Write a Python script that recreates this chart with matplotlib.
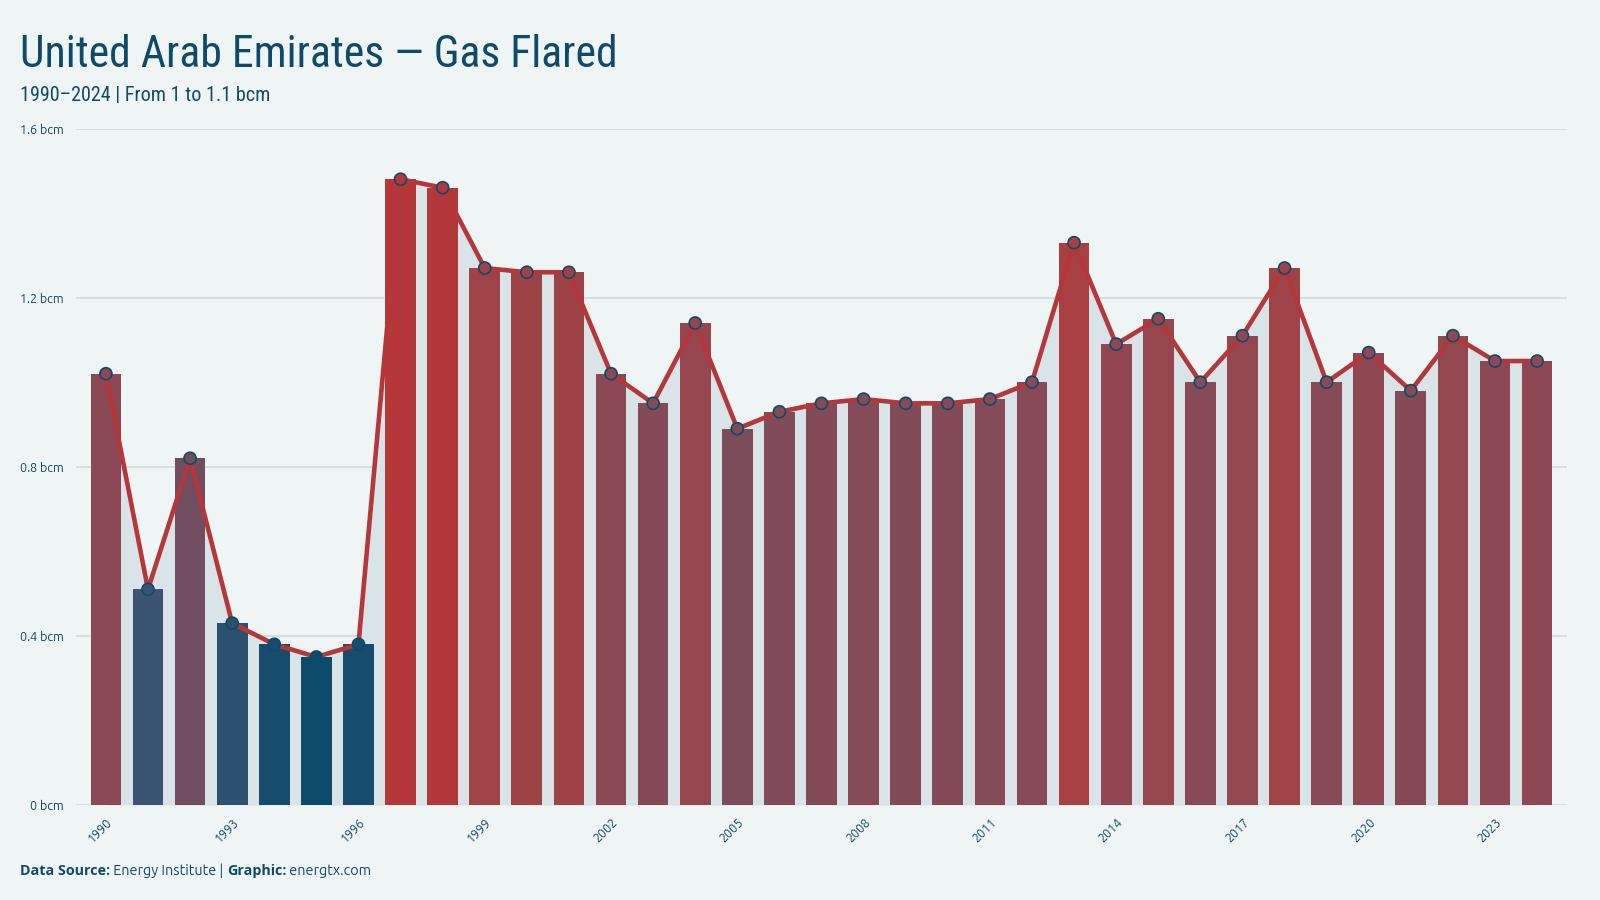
import numpy as np
import matplotlib
matplotlib.use('Agg')
import matplotlib.pyplot as plt
from matplotlib import font_manager as fm
from matplotlib.colors import LinearSegmentedColormap

years = list(range(1990, 2025))
flared = [1.02, 0.51, 0.82, 0.43, 0.38, 0.35, 0.38, 1.48, 1.46, 1.27,
          1.26, 1.26, 1.02, 0.95, 1.14, 0.89, 0.93, 0.95, 0.96, 0.95,
          0.95, 0.96, 1.00, 1.33, 1.09, 1.15, 1.00, 1.11, 1.27, 1.00,
          1.07, 0.98, 1.11, 1.05, 1.05]
yticks = [0, 0.4, 0.8, 1.2, 1.6]
ytick_labels = ['0 bcm', '0.4 bcm', '0.8 bcm', '1.2 bcm', '1.6 bcm']

title = 'United Arab Emirates \u2014 Gas Flared'
subtitle = '1990\u20132024 | From 1 to 1.1 bcm'

BG = '#eff5f5'
BLUE = '#0e4a6b'
RED = '#b5373a'
FILL = '#d9e4e8'
GRID = '#d3dde1'

# colour ramp blue -> red, tuned to the reference
stops = [(0.35, '#0e4a6b'), (0.43, '#2b5070'), (0.51, '#3b5473'),
         (0.90, '#7f4c5a'), (1.00, '#884a56'), (1.10, '#924750'),
         (1.27, '#9e4346'), (1.33, '#a84042'), (1.48, '#b5373a')]
vmin, vmax = stops[0][0], stops[-1][0]
cmap = LinearSegmentedColormap.from_list(
    'ramp', [((v - vmin) / (vmax - vmin), c) for v, c in stops])
colors = [cmap((v - vmin) / (vmax - vmin)) for v in flared]

narrow = ['Ubuntu Condensed', 'Roboto Condensed', 'Roboto', 'DejaVu Sans']
body = ['Ubuntu', 'Open Sans', 'DejaVu Sans']

# Ubuntu may come without a bold face; use Open Sans bold then
try:
    p = fm.findfont(fm.FontProperties(family='Ubuntu', weight='bold'),
                    fallback_to_default=False)
    bold_body = body if 'Bold' in p else ['Open Sans', 'DejaVu Sans']
except Exception:
    bold_body = ['Open Sans', 'DejaVu Sans']

fig = plt.figure(figsize=(16, 9), dpi=100, facecolor=BG)
ax = fig.add_axes([76 / 1600, 0.1056, 1491 / 1600, 0.7516])
ax.set_facecolor(BG)

x = np.array(years)
y = np.array(flared)
ax.fill_between(x, 0, y, color=FILL, zorder=1, linewidth=0)
ax.bar(x, y, width=0.73, color=colors, zorder=2)
ax.plot(x, y, color=RED, lw=3.3, zorder=3, solid_joinstyle='round')
ax.scatter(x, y, s=75, c=colors, edgecolors=BLUE, linewidths=1.2, zorder=4)

ax.set_ylim(0, 1.6)
ax.set_xlim(1989.29, 2024.71)
ax.set_yticks(yticks)
ax.set_yticklabels(ytick_labels, fontsize=9, color=BLUE, family=body)
ax.yaxis.grid(True, color=GRID, lw=1.3, zorder=0)
ax.set_axisbelow(True)
xt = years[::3]
ax.set_xticks(xt)
ax.set_xticklabels([str(t) for t in xt], rotation=45, ha='right',
                   rotation_mode='anchor', fontsize=9, color=BLUE, family=body)
ax.tick_params(axis='y', length=0, pad=9)
ax.tick_params(axis='x', length=0, pad=8)
for s in ax.spines.values():
    s.set_visible(False)

fig.text(20 / 1600, 1 - 67 / 900, title, fontsize=31.5, color=BLUE,
         family=narrow, va='baseline')
fig.text(20 / 1600, 1 - 101 / 900, subtitle, fontsize=14.5, color=BLUE,
         family=narrow, va='baseline')

# footer built piece by piece (bold + regular)
pieces = [('Data Source:', True), (' Energy Institute | ', False),
          ('Graphic:', True), (' energtx.com', False)]
fig.canvas.draw()
r = fig.canvas.get_renderer()
xpos = 20
for txt, b in pieces:
    t = fig.text(xpos / 1600, 1 - 875 / 900, txt, fontsize=10.3, color=BLUE,
                 family=bold_body if b else body,
                 weight='bold' if b else 'normal', va='baseline')
    xpos = t.get_window_extent(r).x1

fig.savefig('out.png', dpi=100, facecolor=BG)
